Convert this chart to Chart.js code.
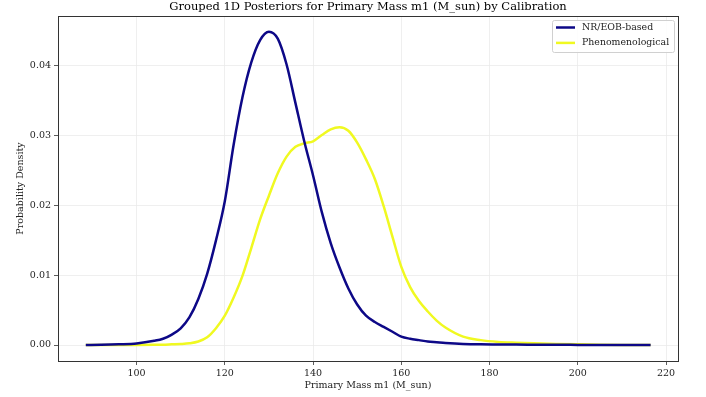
<!DOCTYPE html>
<html>
<head>
<meta charset="utf-8">
<script src="https://cdn.jsdelivr.net/npm/chart.js@4/dist/chart.umd.min.js"></script>
<style>
html,body{margin:0;padding:0;background:#fff;}
#wrap{width:706px;height:397px;position:relative;}
</style>
</head>
<body>
<div id="wrap"><canvas id="c" width="706" height="397"></canvas></div>
<script>
const chartTitle = "Grouped 1D Posteriors for Primary Mass m1 (M_sun) by Calibration";
const xAxisTitle = "Primary Mass m1 (M_sun)";
const yAxisTitle = "Probability Density";
const seriesNames = ["NR/EOB-based", "Phenomenological"];

const massGrid = [88.5, 92, 96, 100, 104, 106, 108, 110, 112, 114, 116, 118, 120, 122, 124, 126, 128, 130, 132, 134, 136, 138, 140, 142, 144, 146, 148, 150, 152, 154, 156, 158, 160, 162, 164, 166, 168, 170, 174, 178, 182, 186, 190, 195, 200, 205, 210, 216.5];

const nrEob = [0, 0.00003, 0.0001, 0.00022, 0.0006, 0.0009, 0.0015, 0.0024, 0.0040, 0.0066, 0.0102, 0.0150, 0.0206, 0.0287, 0.0355, 0.0405, 0.0437, 0.0449, 0.0439, 0.0402, 0.0347, 0.0292, 0.0243, 0.0190, 0.0146, 0.0111, 0.0081, 0.0058, 0.0042, 0.0033, 0.0026, 0.0019, 0.0012, 0.0009, 0.0007, 0.0005, 0.0004, 0.0003, 0.00016, 0.0001, 0.00008, 0.00006, 0.00005, 0.00003, 0.00002, 0.00001, 0, 0];

const phenom = [0, 0, 0, 0.00001, 0.00003, 0.00005, 0.0001, 0.00015, 0.00025, 0.0005, 0.0011, 0.0024, 0.0042, 0.0068, 0.0099, 0.0139, 0.0180, 0.0214, 0.0246, 0.0270, 0.0284, 0.0289, 0.0292, 0.0301, 0.0309, 0.0312, 0.0307, 0.0290, 0.0266, 0.0238, 0.0199, 0.0155, 0.0112, 0.0083, 0.0063, 0.0048, 0.0035, 0.0025, 0.0012, 0.0007, 0.00045, 0.00033, 0.00024, 0.00016, 0.0001, 0.00005, 0.00002, 0];

const xTicks = [100, 120, 140, 160, 180, 200, 220];
const yTicks = [0.00, 0.01, 0.02, 0.03, 0.04];

const colors = ["#0d0887", "#f0f921"];
const FONT = "'DejaVu Serif', serif";

const toPts = (ys) => massGrid.map((x, i) => ({x: x, y: ys[i]}));

const framePlugin = {
  id: 'frame',
  afterDraw(chart) {
    const {ctx, chartArea: a} = chart;
    ctx.save();
    ctx.strokeStyle = '#333';
    ctx.lineWidth = 1;
    ctx.strokeRect(Math.round(a.left) + 0.5, Math.round(a.top) + 0.5, Math.round(a.right - a.left), Math.round(a.bottom - a.top));
    // title
    ctx.fillStyle = '#000';
    ctx.font = "11.5px " + FONT;
    ctx.textAlign = 'center';
    ctx.textBaseline = 'middle';
    ctx.fillText(chartTitle, (a.left + a.right) / 2, 7.5);
    // legend
    const bx = 552, by = 20, bw = 122, bh = 32;
    ctx.fillStyle = 'rgba(255,255,255,0.85)';
    ctx.strokeStyle = '#d0d0d0';
    ctx.lineWidth = 1;
    ctx.beginPath();
    if (ctx.roundRect) ctx.roundRect(bx + 0.5, by + 0.5, bw, bh, 2); else ctx.rect(bx + 0.5, by + 0.5, bw, bh);
    ctx.fill();
    ctx.stroke();
    chart.data.datasets.forEach((ds, i) => {
      const y = by + 7.5 + i * 15.4;
      ctx.strokeStyle = ds.borderColor;
      ctx.lineWidth = 2.5;
      ctx.beginPath();
      ctx.moveTo(bx + 4, y);
      ctx.lineTo(bx + 23, y);
      ctx.stroke();
      ctx.fillStyle = '#222';
      ctx.font = "9.4px " + FONT;
      ctx.textAlign = 'left';
      ctx.textBaseline = 'middle';
      ctx.fillText(ds.label, bx + 30, y);
    });
    ctx.restore();
  }
};

new Chart(document.getElementById('c'), {
  type: 'line',
  data: {
    datasets: [
      {label: seriesNames[0], data: toPts(nrEob), borderColor: colors[0], backgroundColor: colors[0], borderWidth: 2.5, pointRadius: 0, cubicInterpolationMode: 'monotone', fill: false},
      {label: seriesNames[1], data: toPts(phenom), borderColor: colors[1], backgroundColor: colors[1], borderWidth: 2.5, pointRadius: 0, cubicInterpolationMode: 'monotone', fill: false}
    ]
  },
  options: {
    responsive: false,
    animation: false,
    devicePixelRatio: 1,
    layout: {padding: {top: 16, right: 28, left: 0, bottom: 0}},
    plugins: {legend: {display: false}, title: {display: false}, tooltip: {enabled: false}},
    scales: {
      x: {
        type: 'linear', min: 82.2, max: 222.7,
        afterFit(s) { s.height = 36; },
        afterBuildTicks(s) { s.ticks = xTicks.map(v => ({value: v})); },
        ticks: {font: {family: FONT, size: 9.5}, color: '#222', padding: 3, maxRotation: 0, callback: v => String(v)},
        grid: {color: '#ebebeb', lineWidth: 0.8, drawTicks: true, tickLength: 4, tickColor: '#333'},
        border: {display: false},
        title: {display: true, text: xAxisTitle, font: {family: FONT, size: 9.5}, color: '#222', padding: {top: 0, bottom: 6}}
      },
      y: {
        type: 'linear', min: -0.00229, max: 0.04715,
        afterFit(s) { s.width = 58; },
        afterBuildTicks(s) { s.ticks = yTicks.map(v => ({value: v})); },
        ticks: {font: {family: FONT, size: 9.5}, color: '#222', padding: 3, callback: v => Number(v).toFixed(2)},
        grid: {color: '#ebebeb', lineWidth: 0.8, drawTicks: true, tickLength: 4, tickColor: '#333'},
        border: {display: false},
        title: {display: true, text: yAxisTitle, font: {family: FONT, size: 9.5}, color: '#222', padding: {top: 15, bottom: 0}}
      }
    }
  },
  plugins: [framePlugin]
});
</script>
</body>
</html>
